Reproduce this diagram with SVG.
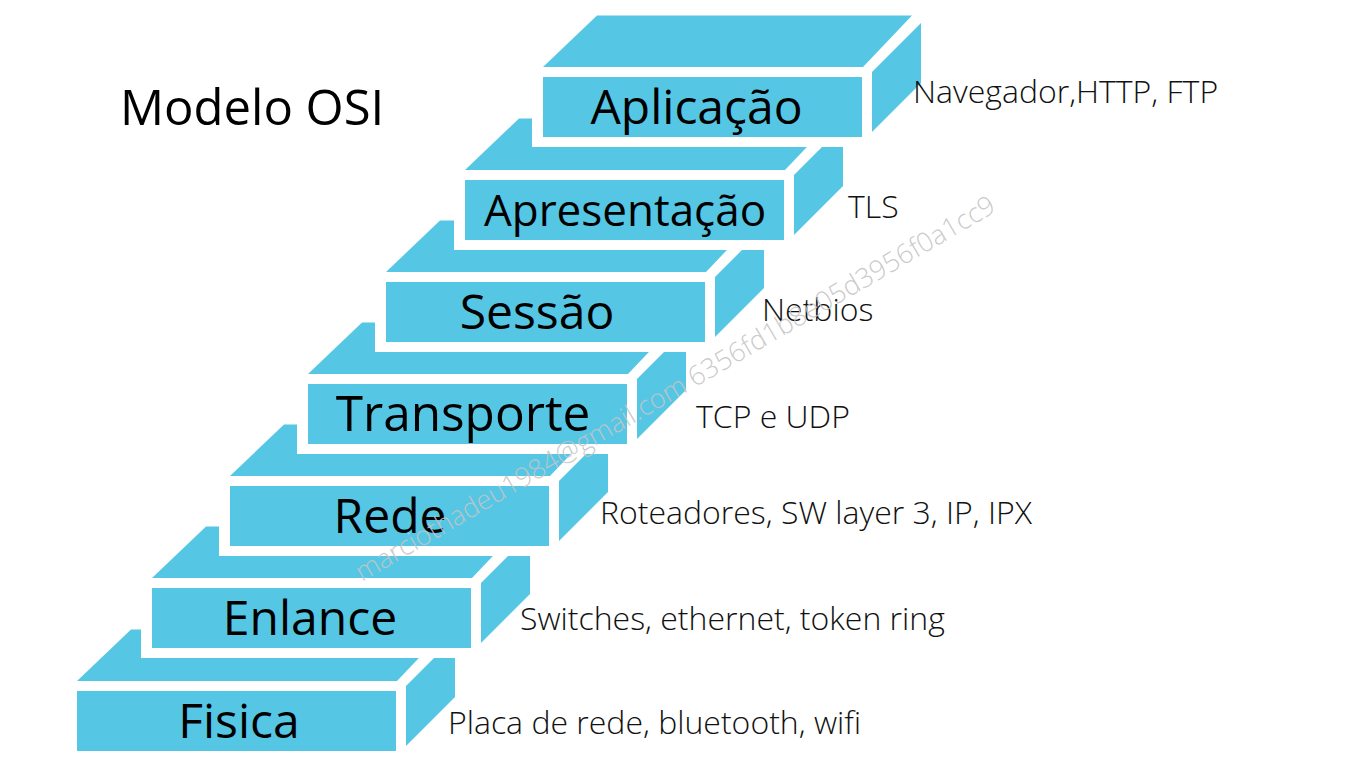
<svg xmlns="http://www.w3.org/2000/svg" xmlns:xlink="http://www.w3.org/1999/xlink" width="1362" height="766" viewBox="0 0 1362 766">
  <style>
    .face { fill: #55c7e4; }
    .back { fill: #ffffff; }
    .title { font-family: "Open Sans", "Liberation Sans", sans-serif; font-size: 49px; fill: #000000; }
    .lbl { font-family: "Open Sans", "Liberation Sans", sans-serif; font-size: 48px; fill: #000000; text-anchor: middle; }
    .desc { font-family: "Open Sans", "Liberation Sans", sans-serif; font-weight: 300; font-size: 32px; fill: #111111; }
    .wm { font-family: "Open Sans", "Liberation Sans", sans-serif; font-weight: 300; font-size: 27px; fill: #c4c4c4; fill-opacity: 0.9; }
  </style>
  <defs>
    <g id="box">
      <rect class="back" x="-11" y="-10" width="341" height="80"/>
      <polygon class="face" points="0,-10 54,-61.5 369,-61.5 320,-10"/>
      <polygon class="face" points="329,-5 378,-54 378,6 329,55"/>
      <rect class="face" x="0" y="0" width="319" height="60"/>
    </g>
  </defs>
  <rect x="0" y="0" width="1362" height="766" fill="#ffffff"/>
  <text class="title" x="120" y="125">Modelo OSI</text>

  <g id="fisica">
    <use xlink:href="#box" href="#box" x="77" y="691"/>
    <text class="lbl" x="239" y="738">Fisica</text>
  </g>
  <g id="enlance">
    <use xlink:href="#box" href="#box" x="152" y="588"/>
    <text class="lbl" x="310" y="635">Enlance</text>
  </g>
  <g id="rede">
    <use xlink:href="#box" href="#box" x="230" y="486"/>
    <text class="lbl" x="390" y="533">Rede</text>
  </g>
  <g id="transporte">
    <use xlink:href="#box" href="#box" x="308" y="384"/>
    <text class="lbl" x="463" y="431" style="font-size:49.5px">Transporte</text>
  </g>
  <g id="sessao">
    <use xlink:href="#box" href="#box" x="386" y="282"/>
    <text class="lbl" x="537" y="329">Sessão</text>
  </g>
  <g id="apresentacao">
    <use xlink:href="#box" href="#box" x="465" y="180"/>
    <text class="lbl" x="625" y="226" style="font-size:44px">Apresentação</text>
  </g>
  <g id="aplicacao">
    <use xlink:href="#box" href="#box" x="543" y="77"/>
    <text class="lbl" x="696.5" y="124">Aplicação</text>
  </g>

  <g id="descriptions">
    <text class="desc" x="913" y="103">Navegador,HTTP, FTP</text>
    <text class="desc" x="848" y="218">TLS</text>
    <text class="desc" x="762" y="321">Netbios</text>
    <text class="desc" x="696" y="428">TCP e UDP</text>
    <text class="desc" x="600" y="524">Roteadores, SW layer 3, IP, IPX</text>
    <text class="desc" x="520" y="630">Switches, ethernet, token ring</text>
    <text class="desc" x="448" y="734">Placa de rede, bluetooth, wifi</text>
  </g>

  <text class="wm" transform="translate(362 582) rotate(-30.3)">marciothadeu1984@gmail.com 6356fd1b8e05d3956f0a1cc9</text>
</svg>
